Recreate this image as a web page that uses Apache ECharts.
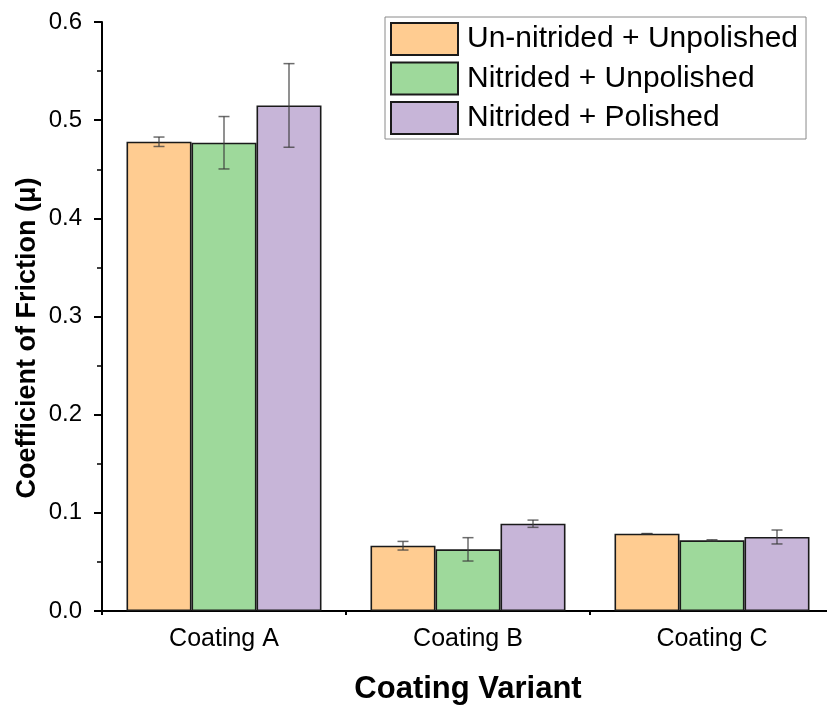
<!DOCTYPE html>
<html><head><meta charset="utf-8">
<script src="https://cdn.jsdelivr.net/npm/echarts@6/dist/echarts.min.js"></script>
<style>html,body{margin:0;padding:0;background:#fff}#c{width:827px;height:705px}</style>
</head><body><div id="c"></div>
<script>
const categories = ['Coating A', 'Coating B', 'Coating C'];
const seriesNames = ['Un-nitrided + Unpolished', 'Nitrided + Unpolished', 'Nitrided + Polished'];
const unnitridedUnpolished = [0.478, 0.0665, 0.0788];
const unnitridedUnpolishedErr = [0.0048, 0.0044, 0];
const nitridedUnpolished = [0.477, 0.0628, 0.072];
const nitridedUnpolishedErr = [0.0267, 0.0119, 0.0006];
const nitridedPolished = [0.515, 0.0889, 0.0754];
const nitridedPolishedErr = [0.0426, 0.0037, 0.0071];
const yTicks = [0, 0.1, 0.2, 0.3, 0.4, 0.5, 0.6];
const yTitle = 'Coefficient of Friction (\u03bc)';
const xTitle = 'Coating Variant';

const colors = ['#FFCC91', '#9ED99B', '#C7B5D8'];
const values = [unnitridedUnpolished, nitridedUnpolished, nitridedPolished];
const errs = [unnitridedUnpolishedErr, nitridedUnpolishedErr, nitridedPolishedErr];
const FONT = 'Liberation Sans, Arial, sans-serif';
const BAR_W = 65;

const chart = echarts.init(document.getElementById('c'), null, {renderer: 'canvas'});

const barSeries = values.map((v, i) => ({
  name: seriesNames[i], type: 'bar', data: v, barWidth: BAR_W, barGap: '0%',
  itemStyle: {color: colors[i], borderColor: '#1a1a1a', borderWidth: 1.6},
  z: 2
}));

const errSeries = values.map((v, i) => ({
  type: 'custom', name: 'err' + i, z: 5, silent: true,
  data: v.map((val, k) => [k, val, errs[i][k]]),
  renderItem: function (params, api) {
    const k = api.value(0), val = api.value(1), e = api.value(2);
    const c = api.coord([k, val]);
    const offset = (i - 1) * BAR_W;
    const x = c[0] + offset;
    const top = api.coord([k, val + e])[1];
    const bot = api.coord([k, val - e])[1];
    const hw = 5.5;
    const st = {stroke: 'rgba(60,60,60,0.75)', lineWidth: 1.5};
    return {type: 'group', children: [
      {type: 'line', shape: {x1: x, y1: top, x2: x, y2: bot}, style: st},
      {type: 'line', shape: {x1: x - hw, y1: top, x2: x + hw, y2: top}, style: st},
      {type: 'line', shape: {x1: x - hw, y1: bot, x2: x + hw, y2: bot}, style: st}
    ]};
  }
}));

chart.setOption({
  animation: false,
  textStyle: {fontFamily: FONT},
  grid: {left: 102, top: 22, width: 732, height: 589, containLabel: false, outerBoundsMode: 'none'},
  legend: {
    orient: 'vertical', left: 385, top: 17,
    itemWidth: 67, itemHeight: 32, itemGap: 5.5,
    padding: [5, 8, 4, 5],
    borderColor: '#8a8a8a', borderWidth: 1,
    data: seriesNames,
    textStyle: {fontFamily: FONT, fontSize: 30, lineHeight: 32, color: '#000', padding: [0, 0, 0, 4]},
    icon: 'rect'
  },
  graphic: [{
    type: 'text', x: 28, y: 338, rotation: Math.PI / 2,
    style: {text: yTitle, fontFamily: FONT, fontSize: 27, fontWeight: 'bold', fill: '#000',
      align: 'center', verticalAlign: 'middle'}
  }],
  xAxis: [{
    type: 'category', data: categories,
    axisLine: {lineStyle: {color: '#000', width: 2}},
    axisTick: {alignWithLabel: true, length: 8, lineStyle: {color: '#000', width: 2}},
    axisLabel: {fontFamily: FONT, fontSize: 25, color: '#000', margin: 16},
    name: xTitle, nameLocation: 'middle', nameGap: 63,
    nameTextStyle: {fontFamily: FONT, fontSize: 31, fontWeight: 'bold', color: '#000'}
  }, {
    type: 'category', data: categories, position: 'bottom',
    axisLine: {show: false},
    axisTick: {show: true, length: 4, lineStyle: {color: '#000', width: 2}},
    axisLabel: {show: false}
  }],
  yAxis: {
    type: 'value', min: 0, max: 0.6, interval: 0.1,
    axisLine: {show: true, lineStyle: {color: '#000', width: 2}},
    axisTick: {show: true, length: 8, lineStyle: {color: '#000', width: 2}},
    minorTick: {show: true, splitNumber: 2, length: 5, lineStyle: {color: '#000', width: 1.5}},
    splitLine: {show: false},
    axisLabel: {fontFamily: FONT, fontSize: 24, color: '#000', margin: 20,
      formatter: v => { const t = yTicks.find(y => Math.abs(y - v) < 1e-9); return (t === undefined ? v : t).toFixed(1); }}
  },
  series: barSeries.concat(errSeries)
});
</script>
</body></html>
